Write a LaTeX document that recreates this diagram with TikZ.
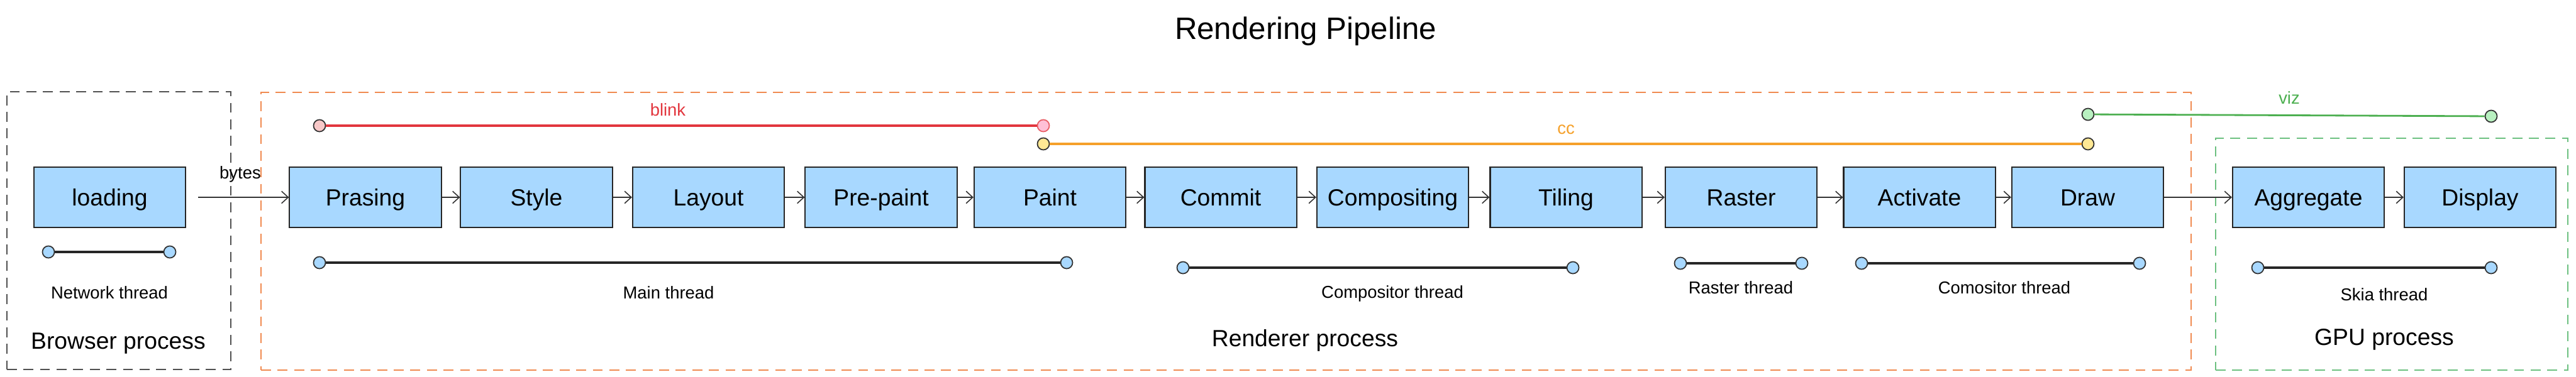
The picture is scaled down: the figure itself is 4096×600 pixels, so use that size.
\documentclass[tikz,border=0pt]{standalone}
\usepackage{fontspec}
\setmainfont{Liberation Sans}
\usetikzlibrary{arrows.meta}
\definecolor{boxblue}{HTML}{A8D8FF}
\definecolor{blinkred}{HTML}{E2363E}
\definecolor{blinkfillA}{HTML}{F8C8C8}
\definecolor{blinkfillB}{HTML}{FFC0D6}
\definecolor{ccorange}{HTML}{F5A02A}
\definecolor{ccfill}{HTML}{FFE894}
\definecolor{vizgreen}{HTML}{4CAF50}
\definecolor{vizfill}{HTML}{B8F0C0}
\definecolor{rendorange}{HTML}{F08A50}
\definecolor{gpugreen}{HTML}{6CC080}
\definecolor{browsergray}{HTML}{505050}
\tikzset{
  stage/.style={draw=black!85, line width=0.6pt, fill=boxblue, minimum width=2.41cm,
    minimum height=0.96cm, inner sep=0pt, text height=7.6pt, text depth=0pt,
    font=\fontsize{10.6}{12}\selectfont},
  flow/.style={-{Straight Barb[length=3pt,width=5.5pt]}, line width=0.45pt, draw=black!80},
  enddot/.style={circle, draw=black!80, line width=0.5pt, minimum size=0.19cm, inner sep=0pt, fill=boxblue},
  thread/.style={line width=0.9pt, draw=black!85},
  threadlabel/.style={font=\fontsize{7.8}{9}\selectfont},
  proclabel/.style={font=\fontsize{10.6}{12}\selectfont},
  container/.style={draw, dash pattern=on 4.5pt off 3pt, line width=0.5pt, inner sep=0pt},
}
\begin{document}
\begin{tikzpicture}[x=0.01cm,y=-0.01cm]
\useasboundingbox (0,0) rectangle (4096,600);

% title
\node[font=\fontsize{14}{16}\selectfont] (title) at (2076,50) {Rendering Pipeline};

% containers
\node[container, draw=browsergray, minimum width=3.56cm, minimum height=4.42cm] (browser) at (189,367) {};
\node[container, draw=rendorange, minimum width=30.67cm, minimum height=4.42cm] (renderer) at (1949.5,368) {};
\node[container, draw=gpugreen, minimum width=5.60cm, minimum height=3.69cm] (gpu) at (3803,404.5) {};

\node[proclabel] (browserlbl) at (188,547) {Browser process};
\node[proclabel] (rendererlbl) at (2075,542) {Renderer process};
\node[proclabel] (gpulbl) at (3791,540) {GPU process};

% stages
\node[stage] (loading) at (174.5,314) {loading};
\node[stage] (prasing) at (581,314) {Prasing};
\node[stage] (style) at (853,314) {Style};
\node[stage] (layout) at (1126.5,314) {Layout};
\node[stage] (prepaint) at (1401,314) {Pre-paint};
\node[stage] (paint) at (1669.5,314) {Paint};
\node[stage] (commit) at (1941,314) {Commit};
\node[stage] (compositing) at (2214.5,314) {Compositing};
\node[stage] (tiling) at (2490,314) {Tiling};
\node[stage] (raster) at (2768.5,314) {Raster};
\node[stage] (activate) at (3052,314) {Activate};
\node[stage] (sdraw) at (3319.5,314) {Draw};
\node[stage] (aggregate) at (3670.5,314) {Aggregate};
\node[stage] (display) at (3943.5,314) {Display};

% flow arrows
\coordinate (bytesstart) at (315,314);
\draw[flow] (bytesstart) -- (prasing.west);
\node[threadlabel] (byteslbl) at (382,277) {bytes};
\draw[flow] (prasing) -- (style);
\draw[flow] (style) -- (layout);
\draw[flow] (layout) -- (prepaint);
\draw[flow] (prepaint) -- (paint);
\draw[flow] (paint) -- (commit);
\draw[flow] (commit) -- (compositing);
\draw[flow] (compositing) -- (tiling);
\draw[flow] (tiling) -- (raster);
\draw[flow] (raster) -- (activate);
\draw[flow] (activate) -- (sdraw);
\draw[flow] (sdraw) -- (aggregate);
\draw[flow] (aggregate) -- (display);

% module spans
\node[enddot, fill=blinkfillA] (blinkA) at (508,200) {};
\node[enddot, fill=blinkfillB, draw=blinkred!80] (blinkB) at (1659,200) {};
\draw[line width=1.1pt, draw=blinkred] (blinkA) -- (blinkB);
\node[threadlabel, text=blinkred] (blinklbl) at (1062,175) {blink};

\node[enddot, fill=ccfill] (ccA) at (1659,229) {};
\node[enddot, fill=ccfill] (ccB) at (3320,229) {};
\draw[line width=0.9pt, draw=ccorange] (ccA) -- (ccB);
\node[threadlabel, text=ccorange] (cclbl) at (2490,206) {cc};

\node[enddot, fill=vizfill] (vizA) at (3320,182) {};
\node[enddot, fill=vizfill] (vizB) at (3961,185) {};
\draw[line width=0.8pt, draw=vizgreen] (vizA) -- (vizB);
\node[threadlabel, text=vizgreen] (vizlbl) at (3640,156) {viz};

% threads
\node[enddot] (netA) at (77,401) {};
\node[enddot] (netB) at (270,401) {};
\draw[thread] (netA) -- (netB);
\node[threadlabel] (netlbl) at (174,466) {Network thread};

\node[enddot] (mainA) at (508,418) {};
\node[enddot] (mainB) at (1696,418) {};
\draw[thread] (mainA) -- (mainB);
\node[threadlabel] (mainlbl) at (1063,466) {Main thread};

\node[enddot] (compA) at (1881,426) {};
\node[enddot] (compB) at (2501,426) {};
\draw[thread] (compA) -- (compB);
\node[threadlabel] (complbl) at (2214,467) {Compositor thread};

\node[enddot] (rasA) at (2672,419) {};
\node[enddot] (rasB) at (2865,419) {};
\draw[thread] (rasA) -- (rasB);
\node[threadlabel] (raslbl) at (2768,458) {Raster thread};

\node[enddot] (comoA) at (2960,419) {};
\node[enddot] (comoB) at (3402,419) {};
\draw[thread] (comoA) -- (comoB);
\node[threadlabel] (comolbl) at (3187,458) {Comositor thread};

\node[enddot] (skiaA) at (3590,426) {};
\node[enddot] (skiaB) at (3961,426) {};
\draw[thread] (skiaA) -- (skiaB);
\node[threadlabel] (skialbl) at (3791,469) {Skia thread};
\end{tikzpicture}
\end{document}
